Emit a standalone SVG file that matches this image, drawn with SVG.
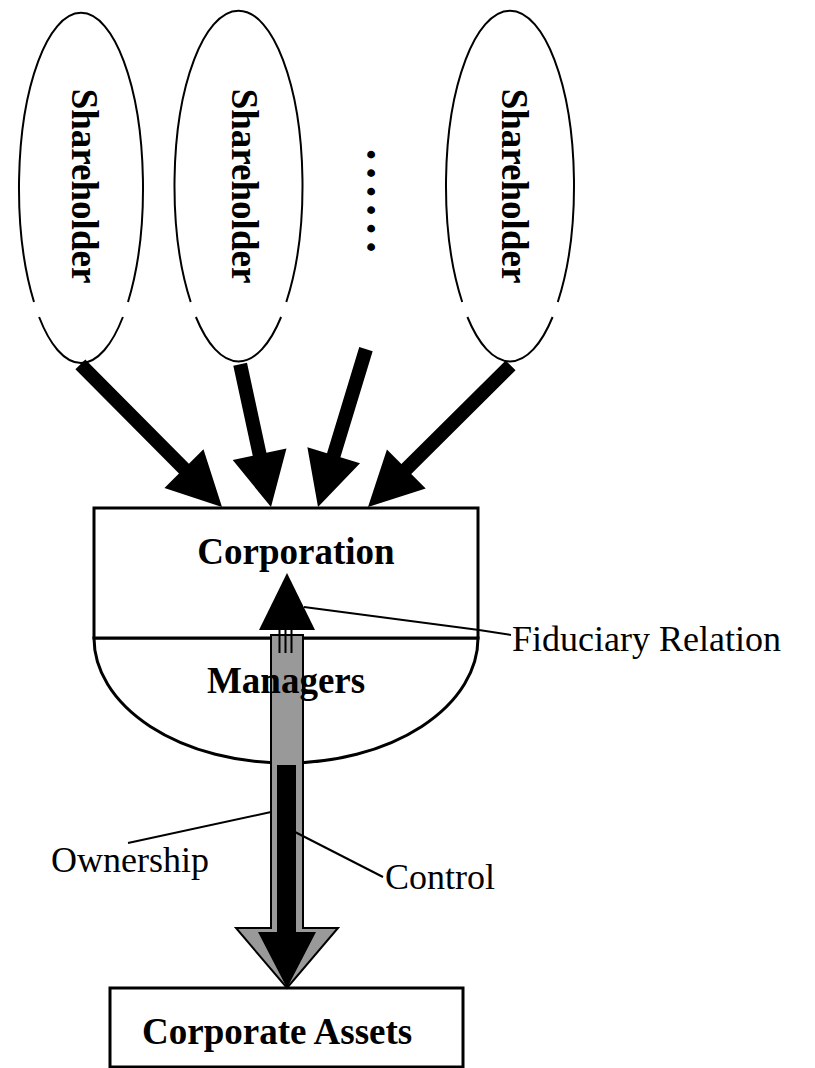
<svg xmlns="http://www.w3.org/2000/svg" width="815" height="1068" viewBox="0 0 815 1068">
<style>
.sh{fill:none;stroke:#000;stroke-width:2}
.bt{font-family:"Liberation Serif","Times New Roman",serif;font-weight:bold;font-size:37px;fill:#000}
.rt{font-family:"Liberation Serif","Times New Roman",serif;font-size:36px;fill:#000}
.ld{fill:none;stroke:#000;stroke-width:2}
.box{fill:#fff;stroke:#000;stroke-width:3}
</style>
<rect width="815" height="1068" fill="#fff"/>

<g id="shareholder1">
<path class="sh" d="M34,302 A62,175 0 1 1 128,302 M122.9,317 A62,175 0 0 1 39.1,317"/>
<text class="bt" text-anchor="middle" transform="translate(72,186) rotate(90)">Shareholder</text>
</g>
<g id="shareholder2">
<path class="sh" d="M190.7,302 A64,175 0 1 1 286.3,302 M281.1,317 A64,175 0 0 1 195.9,317"/>
<text class="bt" text-anchor="middle" transform="translate(232,186) rotate(90)">Shareholder</text>
</g>
<g id="ellipsis">
<text class="bt" stroke="#000" stroke-width="1.6" transform="translate(368,150) rotate(90)">. . . . . .</text>
</g>
<g id="shareholder4">
<path class="sh" d="M462.2,302 A64,175 0 1 1 557.8,302 M552.6,317 A64,175 0 0 1 467.4,317"/>
<text class="bt" text-anchor="middle" transform="translate(502,186) rotate(90)">Shareholder</text>
</g>

<g id="corporation">
<path class="box" d="M94,638 A192,125 0 0 0 478,638 Z"/>
<rect class="box" x="94" y="508" width="384" height="130"/>
<text class="bt" x="296" y="564" text-anchor="middle">Corporation</text>
</g>

<g id="corporate-assets">
<rect class="box" x="110" y="988" width="353" height="79"/>
<text class="bt" x="142" y="1044">Corporate Assets</text>
</g>

<g id="connectors">
<polygon points="-201,-7 -54,-7 -54,-27.5 0,0 -54,27.5 -54,7 -201,7" transform="translate(222,507) rotate(45.2)"/>
<polygon points="-146,-7 -54,-7 -54,-27.5 0,0 -54,27.5 -54,7 -146,7" transform="translate(271,507) rotate(77.8)"/>
<polygon points="-165,-7 -54,-7 -54,-27.5 0,0 -54,27.5 -54,7 -165,7" transform="translate(318,507) rotate(106.9)"/>
<polygon points="-201,-7 -54,-7 -54,-27.5 0,0 -54,27.5 -54,7 -201,7" transform="translate(368,507) rotate(135.2)"/>
<polygon points="287,573 315,630 259,630" fill="#000"/>
<path d="M271,635 L303,635 L303,928 L338,928 L287,988 L236,928 L271,928 Z" fill="#999" stroke="#000" stroke-width="2" stroke-linejoin="miter"/>
<path d="M279.5,630 V653 M285.5,630 V653 M291.5,630 V653" stroke="#000" stroke-width="2" fill="none"/>
<path d="M277,765 L296,765 L296,932 L316,932 L287,988 L258,932 L277,932 Z" fill="#000"/>
<polyline class="ld" points="304,607 479,630 511,635"/>
<polyline class="ld" points="128,843 271,812"/>
<polyline class="ld" points="295,832 383,877"/>
</g>

<g id="labels">
<text class="bt" x="286" y="693" text-anchor="middle">Managers</text>
<text class="rt" x="512" y="651">Fiduciary Relation</text>
<text class="rt" x="51" y="872">Ownership</text>
<text class="rt" x="385" y="889">Control</text>
</g>
</svg>
